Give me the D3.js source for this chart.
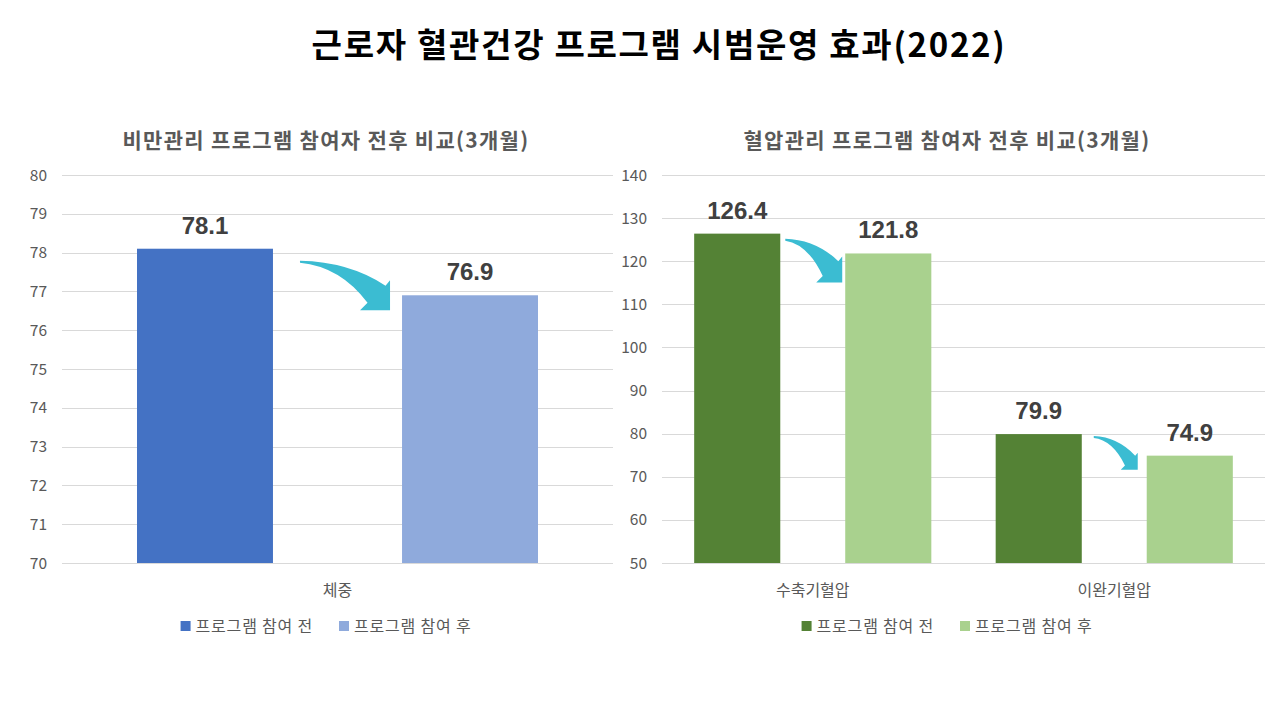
<!DOCTYPE html>
<html>
<head>
<meta charset="utf-8">
<script src="https://cdn.jsdelivr.net/npm/d3@7"></script>
<style>
  body { margin: 0; background: #fff; }
  svg { display: block; }
  text { font-family: "Noto Sans CJK KR", "Noto Sans", sans-serif; }
</style>
</head>
<body>
<div id="chart"></div>
<script>
// data
const mainTitle = "근로자 혈관건강 프로그램 시범운영 효과(2022)";
const seriesNames = ["프로그램 참여 전", "프로그램 참여 후"];

const bmiTitle = "비만관리 프로그램 참여자 전후 비교(3개월)";
const bmiCategories = ["체중"];
const bmiBefore = [78.1];
const bmiAfter = [76.9];
const bmiTicks = [70, 71, 72, 73, 74, 75, 76, 77, 78, 79, 80];

const bpTitle = "혈압관리 프로그램 참여자 전후 비교(3개월)";
const bpCategories = ["수축기혈압", "이완기혈압"];
const bpBefore = [126.4, 79.9];
const bpAfter = [121.8, 74.9];
const bpTicks = [50, 60, 70, 80, 90, 100, 110, 120, 130, 140];

const W = 1280, H = 720;
const svg = d3.select("#chart").append("svg").attr("width", W).attr("height", H);

svg.append("text")
  .attr("x", 659).attr("y", 57)
  .attr("text-anchor", "middle")
  .style("font-size", "33px").style("font-weight", "bold").style("fill", "#000")
  .style("letter-spacing", "1.7px")
  .text(mainTitle);

const arrowColor = "#3bbcd2";

// curved arrow from tail (tx,ty) to tip (px,py), head size hs
function arrowPath(tx, ty, px, py, hs) {
  const U = [px - hs * 0.15, py - hs * 0.82];
  const L = [px - hs * 0.75, py - hs * 0.25];
  const c1 = [tx + 0.58 * (U[0] - tx), ty + 1];
  const c2 = [tx + 0.6 * (L[0] - tx), ty + 0.12 * (py - ty)];
  const p = d3.path();
  p.moveTo(tx, ty);
  p.quadraticCurveTo(c1[0], c1[1], U[0], U[1]);
  p.lineTo(px, py - hs);
  p.lineTo(px, py);
  p.lineTo(px - hs, py);
  p.lineTo(L[0], L[1]);
  p.quadraticCurveTo(c2[0], c2[1], tx, ty + 2);
  p.closePath();
  return p.toString();
}

function drawChart(o) {
  const g = svg.append("g");
  const y = d3.scaleLinear().domain(d3.extent(o.ticks)).range([563, 175]);
  const x0 = d3.scaleBand().domain(o.categories).range([o.left, o.right]).padding(0);
  const x1 = d3.scaleBand().domain(seriesNames).range([0, x0.bandwidth()])
    .paddingInner(o.padIn).paddingOuter(o.padOut);

  g.append("text")
    .attr("x", o.center).attr("y", 148)
    .attr("text-anchor", "middle")
    .style("font-size", "21px").style("font-weight", "bold").style("fill", "#595959")
    .style("letter-spacing", "1.3px")
    .text(o.title);

  // grid
  g.selectAll("line.grid").data(o.ticks).join("line")
    .attr("class", "grid")
    .attr("x1", o.left).attr("x2", o.right)
    .attr("y1", d => Math.round(y(d)) + 0.5).attr("y2", d => Math.round(y(d)) + 0.5)
    .style("stroke", "#d9d9d9").style("stroke-width", 1);

  g.selectAll("text.tick").data(o.ticks).join("text")
    .attr("class", "tick")
    .attr("x", o.left - 15).attr("y", d => y(d) + 5.5)
    .attr("text-anchor", "end")
    .style("font-size", "15.5px").style("fill", "#595959")
    .text(d => d);

  const rows = o.categories.map((c, i) => ({ cat: c, vals: [o.before[i], o.after[i]], fit: o.arrows[i] }));

  const cg = g.selectAll("g.cat").data(rows).join("g")
    .attr("class", "cat")
    .attr("transform", d => `translate(${x0(d.cat)},0)`);

  cg.selectAll("rect").data(d => d.vals.map((v, j) => ({ s: seriesNames[j], v, j }))).join("rect")
    .attr("x", d => x1(d.s))
    .attr("y", d => y(d.v))
    .attr("width", x1.bandwidth())
    .attr("height", d => y(o.ticks[0]) - y(d.v))
    .style("fill", d => o.colors[d.j]);

  cg.selectAll("text.val").data(d => d.vals.map((v, j) => ({ s: seriesNames[j], v }))).join("text")
    .attr("class", "val")
    .attr("x", d => x1(d.s) + x1.bandwidth() / 2)
    .attr("y", d => y(d.v) - 15)
    .attr("text-anchor", "middle")
    .style("font-family", "'Liberation Sans', Arial, sans-serif")
    .style("font-size", "24px").style("font-weight", "bold").style("fill", "#404040")
    .text(d => d.v.toFixed(1));

  cg.append("path")
    .attr("d", d => {
      const f = d.fit;
      const tx = x1(seriesNames[0]) + x1.bandwidth() + f.tail[0];
      const ty = y(d.vals[0]) + f.tail[1];
      const px = x1(seriesNames[1]) + f.tip[0];
      const py = y(d.vals[1]) + f.tip[1];
      return arrowPath(tx, ty, px, py, f.head);
    })
    .style("fill", arrowColor);

  g.selectAll("text.catlab").data(o.categories).join("text")
    .attr("class", "catlab")
    .attr("x", d => x0(d) + x0.bandwidth() / 2).attr("y", 596)
    .attr("text-anchor", "middle")
    .style("font-size", "16px").style("fill", "#595959")
    .text(d => d);

  // legend
  const lg = g.append("g");
  let cx = 0;
  seriesNames.forEach((s, j) => {
    const it = lg.append("g").attr("transform", `translate(${cx},0)`);
    it.append("rect").attr("x", 0).attr("y", -5).attr("width", 10).attr("height", 10).style("fill", o.colors[j]);
    const t = it.append("text").attr("x", 15).attr("y", 6)
      .style("font-size", "16px").style("fill", "#595959")
      .style("letter-spacing", "0.8px").text(s);
    cx += 15 + t.node().getComputedTextLength() + 26;
  });
  const lw = cx - 26;
  lg.attr("transform", `translate(${o.center - lw / 2},626)`);
}

drawChart({
  title: bmiTitle, categories: bmiCategories, before: bmiBefore, after: bmiAfter, ticks: bmiTicks,
  left: 62, right: 613, center: 326, padIn: 0.487, padOut: 0.283,
  colors: ["#4472c4", "#8faadc"],
  arrows: [{ tail: [27, 12], tip: [-12, 15], head: 30 }]
});

drawChart({
  title: bpTitle, categories: bpCategories, before: bpBefore, after: bpAfter, ticks: bpTicks,
  left: 662, right: 1265, center: 947, padIn: 0.43, padOut: 0.213,
  colors: ["#548235", "#a9d18e"],
  arrows: [{ tail: [5, 5], tip: [-3, 29], head: 26 }, { tail: [12, 2], tip: [-9, 14], head: 17 }]
});
</script>
</body>
</html>
